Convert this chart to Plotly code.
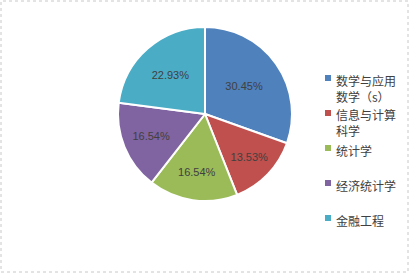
import plotly.graph_objects as go

categories = ["数学与应用\n数学（s）", "信息与计算\n科学", "统计学", "经济统计学", "金融工程"]
shares = [30.45, 13.53, 16.54, 16.54, 22.93]
colors = ["#4F81BD", "#C0504D", "#9BBB59", "#8064A2", "#4BACC6"]

W, H = 410, 274
cx, cy, r = 205, 114, 87

fig = go.Figure(go.Pie(
    labels=[c.replace("\n", "") for c in categories],
    values=shares,
    sort=False,
    direction="clockwise",
    rotation=0,
    marker=dict(colors=colors, line=dict(color="white", width=2)),
    texttemplate="%{percent:.2%}",
    textposition="inside",
    insidetextorientation="horizontal",
    textfont=dict(family="Liberation Sans, Arial, sans-serif", size=11, color="#404040"),
    showlegend=False,
    hoverinfo="label+percent",
    domain=dict(x=[(cx - r) / W, (cx + r) / W], y=[(H - cy - r) / H, (H - cy + r) / H]),
))

annotations = []
shapes = []
leg_x, leg_y0, step = 328, 78, 35
for i, (cat, col) in enumerate(zip(categories, colors)):
    yc = leg_y0 + i * step
    shapes.append(dict(type="rect", xref="paper", yref="paper",
                       x0=(leg_x - 3) / W, x1=(leg_x + 3) / W,
                       y0=(H - yc - 3) / H, y1=(H - yc + 3) / H,
                       fillcolor=col, line=dict(width=0)))
    annotations.append(dict(text=cat.replace("\n", "<br>"), xref="paper", yref="paper",
                            x=(leg_x + 6) / W, y=(H - yc + 8.5) / H,
                            xanchor="left", yanchor="top", align="left", showarrow=False,
                            font=dict(family="Noto Sans CJK SC", size=12, color="#404040")))

shapes.append(dict(type="rect", xref="paper", yref="paper",
                   x0=1 / W, x1=408 / W, y0=2 / H, y1=(H - 1) / H,
                   line=dict(color="#C8C8C8", width=1, dash="dot"), fillcolor="rgba(0,0,0,0)"))

fig.update_layout(
    width=W, height=H,
    margin=dict(l=0, r=0, t=0, b=0),
    paper_bgcolor="white", plot_bgcolor="white",
    annotations=annotations, shapes=shapes,
)
fig.write_html("out.html")
